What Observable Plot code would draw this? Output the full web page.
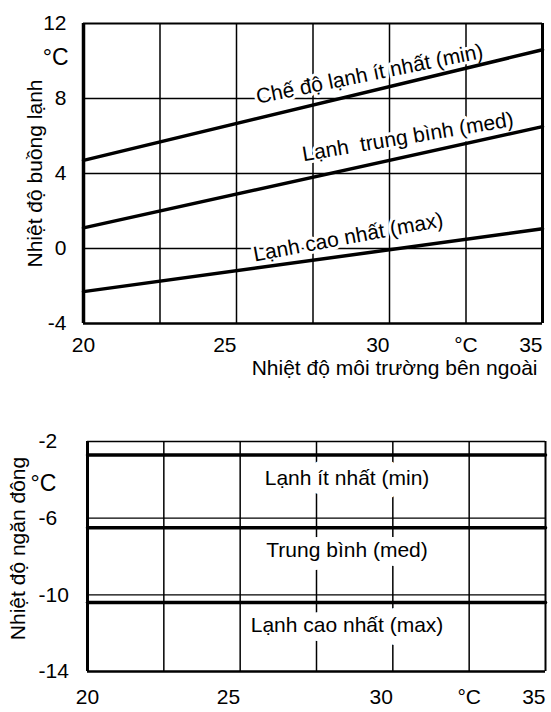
<!DOCTYPE html>
<html><head><meta charset="utf-8">
<script src="https://cdn.jsdelivr.net/npm/d3@7"></script>
<script src="https://cdn.jsdelivr.net/npm/@observablehq/plot@0.6"></script>
<style>
body{margin:0;background:#fff;}
#chart svg{display:block;}
</style></head><body><div id="chart"></div>
<script>
// ---- Top chart: cold-room temperature vs outside temperature ----
const ambientX = [20, 35];
const coldMin = [4.7, 10.6];
const coldMed = [1.1, 6.5];
const coldMax = [-2.3, 1.05];
const coldLabels = ["Chế độ lạnh ít nhất (min)", "Lạnh  trung bình (med)", "Lạnh cao nhất (max)"];
const coldLabelX = [29.35, 30.6, 28.65];
const coldLabelY = [9.3, 5.95, 0.6];
const coldLabelAngle = [-11.5, -9.5, -10.5];
const coldYTicks = [-4, 0, 4, 8, 12];
const coldGridY = [0, 4, 8];
const coldYTitle = "Nhiệt độ buồng lạnh";
const xTitle = "Nhiệt độ môi trường bên ngoài";
const unitLabel = "°C";

// shared x axis
const xDomain = [20, 35];
const gridX = [22.5, 25, 27.5, 30, 32.5];
const xTicksCentered = [20, 32.5];   // 32.5 carries the unit label
const xTicksRight = [25, 30, 35];

// ---- Bottom chart: freezer temperature ----
const freezerMin = [-2.7, -2.7];
const freezerMed = [-6.5, -6.5];
const freezerMax = [-10.4, -10.4];
const freezerLabels = ["Lạnh ít nhất (min)", "Trung bình (med)", "Lạnh cao nhất (max)"];
const freezerLabelX = [28.5, 28.5, 28.5];
const freezerLabelY = [-3.93, -7.69, -11.6];
const freezerYTicks = [-14, -10, -6, -2];
const freezerGridY = [-6, -10];
const freezerYTitle = "Nhiệt độ ngăn đông";

const font = "'Liberation Sans', Arial, Helvetica, sans-serif";
const xTickFmt = d => d === 32.5 ? unitLabel : String(d);
const yTickFmt = d => String(d);
const rows = (xs, ys) => xs.map((x, i) => ({x, y: ys[i]}));

const topChart = Plot.plot({
  width: 551, height: 400,
  marginLeft: 83, marginRight: 9, marginTop: 23, marginBottom: 77,
  style: {fontFamily: font, fontSize: "21px", color: "black", background: "white"},
  x: {domain: xDomain},
  y: {domain: [-4, 12]},
  marks: [
    Plot.ruleX(gridX, {stroke: "black", strokeWidth: 1.5}),
    Plot.ruleY(coldGridY, {stroke: "black", strokeWidth: 1.5}),
    Plot.text(coldLabels, {
      x: (d, i) => coldLabelX[i], y: (d, i) => coldLabelY[i], rotate: (d, i) => coldLabelAngle[i],
      text: d => d, fill: "black", stroke: "white", strokeWidth: 6, strokeLinejoin: "round", lineAnchor: "middle"
    }),
    Plot.line(rows(ambientX, coldMin), {x: "x", y: "y", stroke: "black", strokeWidth: 3.5}),
    Plot.line(rows(ambientX, coldMed), {x: "x", y: "y", stroke: "black", strokeWidth: 3.5}),
    Plot.line(rows(ambientX, coldMax), {x: "x", y: "y", stroke: "black", strokeWidth: 3.5}),
    Plot.ruleY([12], {stroke: "black", strokeWidth: 2}),
    Plot.ruleY([-4], {stroke: "black", strokeWidth: 2.5}),
    Plot.ruleX([20], {stroke: "black", strokeWidth: 3.5}),
    Plot.ruleX([35], {stroke: "black", strokeWidth: 3}),
    Plot.axisY(coldYTicks, {tickSize: 0, tickPadding: 17, tickFormat: yTickFmt, label: null}),
    Plot.axisX(xTicksCentered, {tickSize: 0, tickPadding: 14, tickFormat: xTickFmt, label: null}),
    Plot.axisX(xTicksRight, {tickSize: 0, tickPadding: 14, textAnchor: "end", tickFormat: xTickFmt, label: null}),
    Plot.text([unitLabel], {frameAnchor: "left", y: () => 10.2, text: d => d, textAnchor: "end", dx: -15, fontSize: 23, lineAnchor: "middle"}),
    Plot.text([coldYTitle], {frameAnchor: "left", rotate: -90, dx: -48, text: d => d, textAnchor: "middle", lineAnchor: "middle"}),
    Plot.text([xTitle], {frameAnchor: "bottom-right", dx: -5, dy: 51, text: d => d, textAnchor: "end", lineAnchor: "bottom"})
  ]
});

const bottomChart = Plot.plot({
  width: 551, height: 312,
  marginLeft: 87, marginRight: 6, marginTop: 41, marginBottom: 41,
  style: {fontFamily: font, fontSize: "21px", color: "black", background: "white"},
  x: {domain: xDomain},
  y: {domain: [-14, -2]},
  marks: [
    Plot.ruleX(gridX, {stroke: "black", strokeWidth: 1.5}),
    Plot.ruleY(freezerGridY, {stroke: "black", strokeWidth: 1.2}),
    Plot.text(freezerLabels, {
      x: (d, i) => freezerLabelX[i], y: (d, i) => freezerLabelY[i],
      text: d => d, fill: "black", stroke: "white", strokeWidth: 18, strokeLinejoin: "round", lineAnchor: "middle"
    }),
    Plot.line(rows(ambientX, freezerMin), {x: "x", y: "y", stroke: "black", strokeWidth: 3.5}),
    Plot.line(rows(ambientX, freezerMed), {x: "x", y: "y", stroke: "black", strokeWidth: 3.5}),
    Plot.line(rows(ambientX, freezerMax), {x: "x", y: "y", stroke: "black", strokeWidth: 3.5}),
    Plot.ruleY([-2], {stroke: "black", strokeWidth: 1.5}),
    Plot.ruleY([-14], {stroke: "black", strokeWidth: 2.5}),
    Plot.ruleX([20], {stroke: "black", strokeWidth: 3}),
    Plot.ruleX([35], {stroke: "black", strokeWidth: 2}),
    Plot.axisY(freezerYTicks, {tickSize: 0, tickPadding: 49, textAnchor: "start", tickFormat: yTickFmt, label: null}),
    Plot.axisX(xTicksCentered, {tickSize: 0, tickPadding: 18, tickFormat: xTickFmt, label: null}),
    Plot.axisX(xTicksRight, {tickSize: 0, tickPadding: 18, textAnchor: "end", tickFormat: xTickFmt, label: null}),
    Plot.text([unitLabel], {frameAnchor: "left", y: () => -4.2, text: d => d, textAnchor: "start", dx: -57, fontSize: 23, lineAnchor: "middle"}),
    Plot.text([freezerYTitle], {frameAnchor: "left", rotate: -90, dx: -69, dy: -8, text: d => d, textAnchor: "middle", lineAnchor: "middle"})
  ]
});

const root = document.getElementById("chart");
root.appendChild(topChart);
root.appendChild(bottomChart);
</script>
</body></html>
